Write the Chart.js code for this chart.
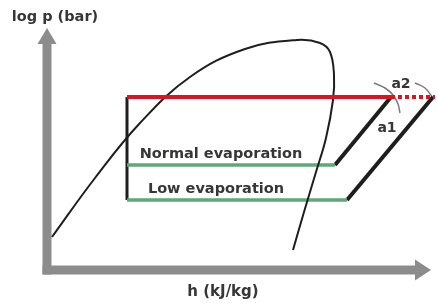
<!DOCTYPE html>
<html>
<head>
<meta charset="utf-8">
<script src="https://cdn.jsdelivr.net/npm/chart.js@4.4.0/dist/chart.umd.min.js"></script>
<style>
  html, body { margin: 0; padding: 0; background: #fff; }
  #wrap { width: 437px; height: 303px; }
</style>
</head>
<body>
<div id="wrap"><canvas id="myChart" width="437" height="303"></canvas></div>
<script>
// saturation dome (h, log p in diagram units, origin at the axes corner)
const domeH = [5, 48, 93, 143, 198, 250, 273, 283, 287, 286, 279, 269, 257, 246];
const domeP = [33, 92, 147, 193, 221, 230, 227, 218, 195, 170, 132, 98, 58, 20];

// cycle levels
const pCond = 173, pNormal = 105, pLow = 70;
const hLiquid = 80;
const hSuctionNormal = 288, hSuctionLow = 300;
const hDischargeNormal = 344, hDischargeLow = 386;
const hDotEnd = 388;

// angle marks a2 / a1
const arc1H = [327, 338, 346, 351, 353];
const arc1P = [187, 182, 175, 166, 157];
const arc2H = [368, 378, 386];
const arc2P = [187, 182, 172];

// axis arrow ends
const hAxisEnd = 384, pAxisEnd = 242;

const pts = (xs, ys) => xs.map((x, i) => ({ x: x, y: ys[i] }));
const seg = (h1, p1, h2, p2) => [{ x: h1, y: p1 }, { x: h2, y: p2 }];

function line(data, color, width, order, extra) {
    return Object.assign({
        data: data,
        borderColor: color,
        borderWidth: width,
        showLine: true,
        pointRadius: 0,
        fill: false,
        order: order
    }, extra || {});
}

const RED = '#e3101f', GREEN = '#5fa878', BLACK = '#1e1e1e', GREY = '#8c8c8c', TEXT = '#363636';

const decor = {
    id: 'decor',
    beforeDatasetsDraw(chart) {
        const ctx = chart.ctx;
        const x = chart.scales.x, y = chart.scales.y;
        const x0 = x.getPixelForValue(0), y0 = y.getPixelForValue(0);
        const xe = x.getPixelForValue(hAxisEnd), ye = y.getPixelForValue(pAxisEnd);
        const t = 4.5, head = 16, hw = 9.5;
        ctx.save();
        ctx.fillStyle = GREY;
        // vertical axis
        ctx.fillRect(x0 - t, ye + head, 2 * t, y0 + t - (ye + head));
        ctx.beginPath();
        ctx.moveTo(x0, ye);
        ctx.lineTo(x0 + hw, ye + head);
        ctx.lineTo(x0 - hw, ye + head);
        ctx.closePath();
        ctx.fill();
        // horizontal axis
        ctx.fillRect(x0 - t, y0 - t, xe - head - (x0 - t), 2 * t);
        ctx.beginPath();
        ctx.moveTo(xe, y0);
        ctx.lineTo(xe - head, y0 - hw - 1);
        ctx.lineTo(xe - head, y0 + hw + 1);
        ctx.closePath();
        ctx.fill();
        ctx.restore();
    },
    afterDatasetsDraw(chart) {
        const ctx = chart.ctx;
        const x = chart.scales.x, y = chart.scales.y;
        const put = (txt, h, p, size) => {
            ctx.font = 'bold ' + size + 'px "DejaVu Sans"';
            ctx.fillText(txt, x.getPixelForValue(h), y.getPixelForValue(p));
        };
        ctx.save();
        ctx.fillStyle = TEXT;
        ctx.textAlign = 'center';
        ctx.textBaseline = 'middle';
        put('log p (bar)', 8, 253, 14.5);
        put('h (kJ/kg)', 176, -22, 15);
        put('Normal evaporation', 174, 116, 14.5);
        put('Low evaporation', 169, 81, 14.5);
        put('a2', 354, 186, 14);
        put('a1', 340, 142, 14);
        ctx.restore();
    }
};

const ctx = document.getElementById('myChart').getContext('2d');
const myChart = new Chart(ctx, {
    type: 'scatter',
    data: {
        datasets: [
            line(seg(hLiquid, pCond, hDischargeNormal, pCond), RED, 4, 0),
            line(seg(hDischargeNormal, pCond, hDotEnd, pCond), RED, 4, 0, { borderDash: [4, 3] }),
            line(pts(domeH, domeP), BLACK, 2, 1, { tension: 0.4 }),
            line(seg(hLiquid, pNormal, hSuctionNormal, pNormal), GREEN, 3.5, 2),
            line(seg(hLiquid, pLow, hSuctionLow, pLow), GREEN, 3.5, 2),
            line(seg(hLiquid, pCond, hLiquid, pLow), BLACK, 3, 3),
            line(seg(hSuctionNormal, pNormal, hDischargeNormal, pCond), BLACK, 4, 3),
            line(seg(hSuctionLow, pLow, hDischargeLow, pCond), BLACK, 4, 3),
            line(pts(arc1H, arc1P), '#7a7a7a', 1.5, 4, { tension: 0.4 }),
            line(pts(arc2H, arc2P), '#7a7a7a', 1.5, 4, { tension: 0.4 })
        ]
    },
    options: {
        responsive: false,
        devicePixelRatio: 1,
        animation: false,
        layout: { padding: 0 },
        scales: {
            x: { type: 'linear', min: -47, max: 390, display: false },
            y: { type: 'linear', min: -33, max: 270, display: false }
        },
        plugins: {
            legend: { display: false },
            tooltip: { enabled: false }
        }
    },
    plugins: [decor]
});
</script>
</body>
</html>
